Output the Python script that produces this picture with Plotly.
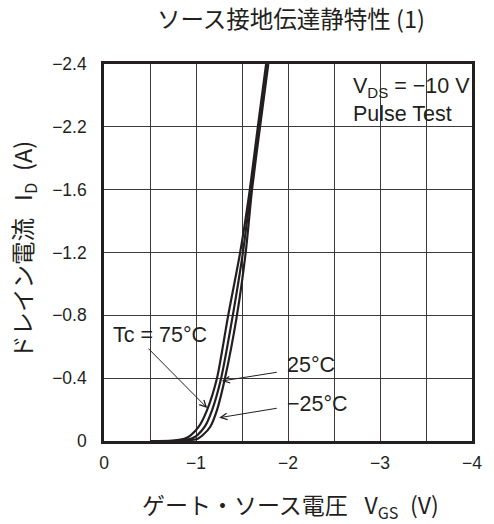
import plotly.graph_objects as go

# ---- data ----
id_a = [0, -0.003, -0.015, -0.038, -0.091, -0.197, -0.4, -0.8, -1.2, -1.6, -2.0, -2.4]
vgs_75 = [-0.5, -0.75, -0.88, -0.945, -1.03, -1.12, -1.228, -1.35, -1.48, -1.585, -1.672, -1.762]
vgs_25 = [-0.6, -0.82, -0.95, -1.015, -1.095, -1.175, -1.273, -1.40, -1.51, -1.597, -1.684, -1.774]
vgs_m25 = [-0.7, -0.9, -1.02, -1.075, -1.155, -1.228, -1.315, -1.445, -1.54, -1.609, -1.696, -1.786]

x_tickvals = [0, -1, -2, -3, -4]
x_ticktext = ["0", "\u22121", "\u22122", "\u22123", "\u22124"]
y_tickvals = [0, -0.4, -0.8, -1.2, -1.6, -2.0, -2.4]
y_ticktext = ["0", "\u22120.4", "\u22120.8", "\u22121.2", "\u22121.6", "\u22122.2", "\u22122.4"]

title_text = "ソース接地伝達静特性 (1)"
x_title = "ゲート・ソース電圧\u2002 V<sub>GS</sub>\u2002(V)"
y_title = "ドレイン電流\u2002 I<sub>D</sub>\u2002(A)"

INK = "#231f20"
LAT = "Liberation Sans, Arial, Noto Sans CJK JP"
CJK = "Noto Sans CJK JP, Liberation Sans"

fig = go.Figure()
for v in (vgs_75, vgs_25, vgs_m25):
    fig.add_trace(go.Scatter(x=v, y=id_a, mode="lines",
                             line=dict(color=INK, width=2.2, shape="spline", smoothing=0.7),
                             showlegend=False, hoverinfo="skip"))

axis_common = dict(showline=True, linewidth=2.6, linecolor=INK, mirror=True,
                   showgrid=True, gridcolor="#3a3a3a", gridwidth=1,
                   zeroline=False, ticks="",
                   tickfont=dict(family=LAT, size=17.5, color=INK))
fig.update_xaxes(range=[0, -4], tickvals=x_tickvals, ticktext=x_ticktext, ticklabelstandoff=4,
                 minor=dict(dtick=0.5, tick0=0, showgrid=True, gridcolor="#3a3a3a", gridwidth=1, ticks=""),
                 **axis_common)
fig.update_yaxes(range=[0, -2.4], tickvals=y_tickvals, ticktext=y_ticktext, ticklabelstandoff=11,
                 **axis_common)

ann = []
ann.append(dict(text=title_text, xref="paper", yref="paper", x=0.508, y=1.122,
                xanchor="center", yanchor="middle",
                showarrow=False, font=dict(family=CJK, size=23.5, color=INK)))
ann.append(dict(text=x_title, xref="paper", yref="paper", x=0.508, y=-0.17,
                xanchor="center", yanchor="middle",
                showarrow=False, font=dict(family=CJK, size=23, color=INK)))
ann.append(dict(text=y_title, xref="paper", yref="paper", x=-0.217, y=0.507,
                xanchor="center", yanchor="middle",
                showarrow=False, textangle=-90, font=dict(family=CJK, size=23.5, color=INK)))
ann.append(dict(text="V<sub>DS</sub> = \u221210 V<br>Pulse Test", xref="x", yref="y",
                x=-2.68, y=-2.17, xanchor="left", yanchor="middle", align="left",
                showarrow=False, font=dict(family=LAT, size=21.5, color=INK)))
ann.append(dict(text="Tc = 75°C", xref="x", yref="y", x=-0.08, y=-0.677,
                xanchor="left", yanchor="middle", showarrow=False,
                font=dict(family=LAT, size=21.5, color=INK)))
ann.append(dict(text="25°C", xref="x", yref="y", x=-1.97, y=-0.484,
                xanchor="left", yanchor="middle", showarrow=False,
                font=dict(family=LAT, size=21.5, color=INK)))
ann.append(dict(text="\u221225°C", xref="x", yref="y", x=-1.97, y=-0.236,
                xanchor="left", yanchor="middle", showarrow=False,
                font=dict(family=LAT, size=21.5, color=INK)))
# arrows (tail -> head)
for tail, head in [((-0.466, -0.598), (-1.122, -0.21)),
                   ((-1.894, -0.439), (-1.28, -0.382)),
                   ((-1.894, -0.21), (-1.252, -0.148))]:
    ann.append(dict(text="", x=head[0], y=head[1], ax=tail[0], ay=tail[1],
                    xref="x", yref="y", axref="x", ayref="y", showarrow=True,
                    arrowhead=5, arrowsize=1.3, arrowwidth=1, arrowcolor=INK))

fig.update_layout(width=494, height=524, margin=dict(l=104, r=12, t=64, b=83),
                  plot_bgcolor="white", paper_bgcolor="white", annotations=ann)
fig.write_html("out.html", config={"displayModeBar": False},
               post_script="document.body.style.margin='0';document.body.style.overflow='hidden';")
